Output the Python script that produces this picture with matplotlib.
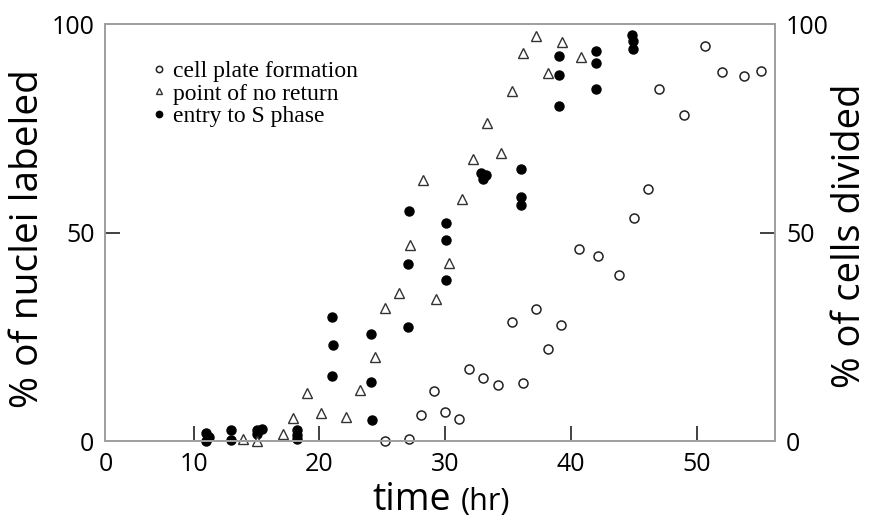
import matplotlib
matplotlib.use('Agg')
import matplotlib.pyplot as plt
from matplotlib.offsetbox import TextArea, HPacker, AnchoredOffsetbox

# cell plate formation (open circles, % of cells divided)
plate_t = [25.2, 27.1, 28.1, 29.1, 30.0, 31.1, 31.9, 33.0, 34.2, 36.2, 35.3, 37.2,
           38.2, 39.2, 40.6, 42.1, 43.8, 45.0, 46.1, 47.0, 49.0, 50.6, 52.0, 53.7, 55.1]
plate_v = [0.0, 0.6, 6.2, 12.1, 7.0, 5.2, 17.2, 15.0, 13.4, 14.0, 28.5, 31.6,
           22.0, 27.9, 46.0, 44.4, 39.7, 53.5, 60.4, 84.4, 78.2, 94.7, 88.4, 87.6, 88.8]

# point of no return (open triangles, % of nuclei labeled)
nr_t = [13.9, 15.0, 17.1, 17.9, 19.0, 20.1, 22.1, 23.2, 24.4, 25.2, 26.3, 27.2, 29.3,
        30.3, 28.2, 31.3, 32.2, 34.4, 33.3, 35.3, 36.2, 37.2, 38.2, 39.3, 40.8]
nr_v = [0.4, 0.1, 1.7, 5.4, 11.6, 6.6, 5.8, 12.2, 20.1, 32.0, 35.4, 47.0, 34.1,
        42.6, 62.6, 58.0, 67.6, 69.1, 76.2, 83.9, 93.0, 97.1, 88.2, 95.7, 92.2]

# entry to S phase (filled circles, % of nuclei labeled)
s_t = [11.0, 11.2, 11.0, 13.0, 13.0, 15.0, 15.4, 15.05, 18.2, 18.2, 18.2,
       21.0, 21.1, 21.0, 24.1, 24.1, 24.2, 27.1, 27.0, 27.0, 30.05, 30.05, 30.05,
       32.8, 33.25, 33.0, 36.0, 36.0, 36.05, 39.0, 39.0, 39.0, 42.0, 42.0, 42.0,
       44.85, 44.95, 44.95]
s_v = [1.9, 0.9, 0.0, 2.7, 0.2, 2.7, 2.8, 1.6, 2.6, 1.4, 0.4,
       29.8, 23.0, 15.7, 25.7, 14.2, 5.0, 55.2, 42.4, 27.3, 52.4, 48.2, 38.6,
       64.2, 63.8, 62.8, 65.2, 58.4, 56.6, 92.3, 87.8, 80.4, 93.5, 90.7, 84.3,
       97.4, 96.0, 94.0]

x_ticks = [10, 20, 30, 40, 50]
y_ticks = [0, 50, 100]

plt.rcParams['font.family'] = ['Open Sans', 'DejaVu Sans']

fig = plt.figure(figsize=(8.69, 5.2), dpi=100)
ax = fig.add_axes([0.1214, 0.1519, 0.7704, 0.8019])
ax2 = ax.twinx()

for a in (ax, ax2):
    a.set_xlim(3, 56.2)
    a.set_ylim(0, 100)
    for sp in a.spines.values():
        sp.set_color('#a0a0a0')
        sp.set_linewidth(1.4)
    a.set_yticks([y_ticks[1]], labels=[str(y_ticks[1])])
    a.set_yticks([y_ticks[0], y_ticks[2]], labels=[str(y_ticks[0]), str(y_ticks[2])], minor=True)
    a.tick_params(which='both', direction='in', labelsize=18, pad=8,
                  color='#333333', width=1.3, length=11)
    a.tick_params(which='minor', length=0)

ax.set_xticks(x_ticks, labels=[str(v) for v in x_ticks])
ax.set_xticks([3], labels=['0'], minor=True)
ax.tick_params(axis='x', which='minor', length=0)

h3, = ax.plot(s_t, s_v, 'o', color='black', ms=6.5, clip_on=False,
              label='entry to S phase')
h2, = ax.plot(nr_t, nr_v, '^', mfc='white', mec='#333333', mew=1.0, ms=6.5,
              clip_on=False, label='point of no return')
h1, = ax2.plot(plate_t, plate_v, 'o', mfc='white', mec='#222222', mew=1.1, ms=6.5,
               clip_on=False, label='cell plate formation')

ax2.legend(handles=[h1, h2, h3], loc='upper left', bbox_to_anchor=(0.0686, 0.913),
           frameon=False, borderaxespad=0, borderpad=0, markerscale=0.7,
           handlelength=0.6, handletextpad=0.3, labelspacing=0.05,
           prop=dict(family='Liberation Serif', size=17))

fig.text(28.5 / 869, 0.5404, '% of nuclei labeled', rotation=90,
         ha='center', va='center', size=28)
fig.text(850 / 869, 0.5462, '% of cells divided', rotation=90,
         ha='center', va='center', size=27.5)

xlab = HPacker(children=[TextArea('time', textprops=dict(size=27)),
                         TextArea('(hr)', textprops=dict(size=22))],
               sep=7, align='baseline', pad=0)
ab = AnchoredOffsetbox(loc='center', child=xlab, pad=0, borderpad=0, frameon=False,
                       bbox_to_anchor=(441.5 / 869, 1 - 500 / 520),
                       bbox_transform=fig.transFigure)
ax2.add_artist(ab)

fig.savefig('out.png', dpi=100)
